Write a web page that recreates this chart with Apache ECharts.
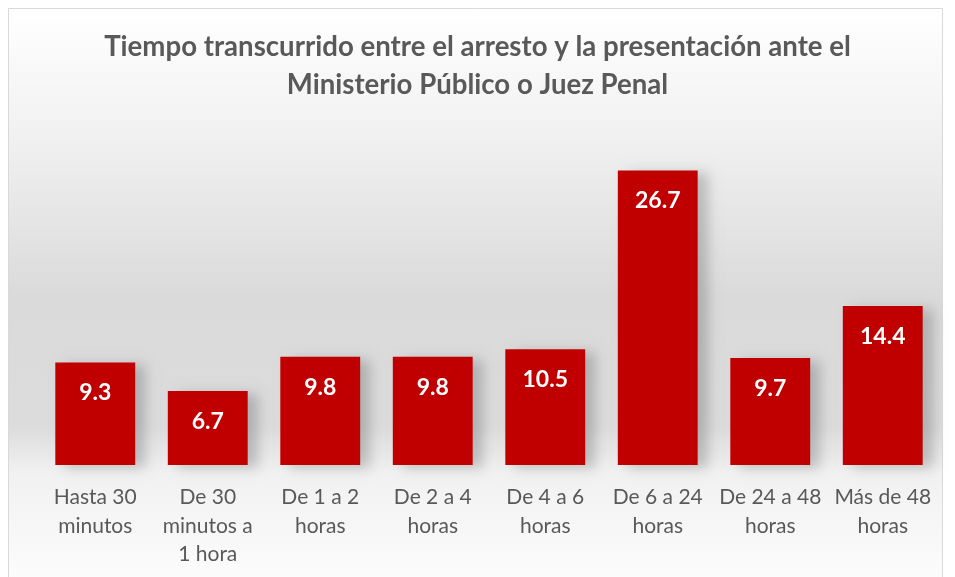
<!DOCTYPE html>
<html>
<head>
<meta charset="utf-8">
<script src="https://cdn.jsdelivr.net/npm/echarts@6/dist/echarts.min.js"></script>
<style>
  html, body { margin: 0; padding: 0; background: #fff; }
  #main { width: 955px; height: 577px; }
</style>
</head>
<body>
<div id="main"></div>
<script>
// datos
var categorias = ['Hasta 30\nminutos', 'De 30\nminutos a\n1 hora', 'De 1 a 2\nhoras', 'De 2 a 4\nhoras',
  'De 4 a 6\nhoras', 'De 6 a 24\nhoras', 'De 24 a 48\nhoras', 'Más de 48\nhoras']
var valores = [9.3, 6.7, 9.8, 9.8, 10.5, 26.7, 9.7, 14.4]
var titulo = 'Tiempo transcurrido entre el arresto y la presentación ante el\nMinisterio Público o Juez Penal'

var fuente = 'Lato'
var myChart = echarts.init(document.getElementById('main'))

var option = {
  backgroundColor: '#ffffff',
  animation: false,
  graphic: [{
    type: 'rect',
    z: -10,
    silent: true,
    shape: { x: 8.5, y: 8.5, width: 934, height: 580 },
    style: {
      stroke: '#d9d9d9',
      lineWidth: 1,
      fill: {
        type: 'linear', x: 0, y: 0, x2: 0, y2: 1,
        colorStops: [
          { offset: 0, color: '#ffffff' },
          { offset: 0.22, color: '#f1f1f1' },
          { offset: 0.5, color: '#dadada' },
          { offset: 0.72, color: '#dcdcdc' },
          { offset: 0.8, color: '#f1f1f1' },
          { offset: 1, color: '#fdfdfd' }
        ]
      }
    }
  }],
  title: {
    text: titulo,
    left: 'center',
    top: 23,
    padding: [5, 5, 5, 40],
    textStyle: {
      fontFamily: fuente,
      fontWeight: 'bold',
      fontSize: 27.6,
      color: '#595959',
      lineHeight: 38
    }
  },
  grid: {
    left: 39,
    right: 16,
    top: 134,
    bottom: 112
  },
  xAxis: {
    type: 'category',
    data: categorias,
    axisLine: { show: false },
    axisTick: { show: false },
    axisLabel: {
      interval: 0,
      margin: 18,
      verticalAlign: 'top',
      fontFamily: fuente,
      fontSize: 21,
      lineHeight: 28.5,
      color: '#595959'
    }
  },
  yAxis: {
    type: 'value',
    min: 0,
    max: 30,
    show: false,
    splitLine: { show: false }
  },
  series: [{
    type: 'bar',
    data: valores,
    barWidth: '71%',
    itemStyle: {
      color: '#c00000',
      shadowColor: 'rgba(0,0,0,0.2)',
      shadowBlur: 12,
      shadowOffsetX: 10,
      shadowOffsetY: 3
    },
    label: {
      show: true,
      position: 'insideTop',
      distance: 19,
      fontFamily: fuente,
      fontWeight: 'bold',
      fontSize: 23,
      color: '#ffffff'
    }
  }]
}

myChart.setOption(option)
</script>
</body>
</html>
